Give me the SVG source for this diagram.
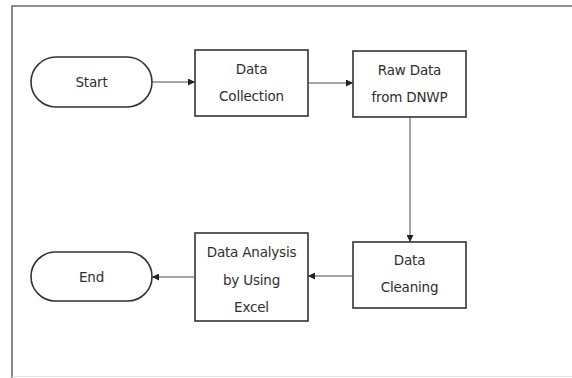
<svg xmlns="http://www.w3.org/2000/svg" width="572" height="378" viewBox="0 0 572 378">
  <style>
    .shape { fill: #ffffff; stroke: #333333; stroke-width: 1.6; }
    .label { font-family: "DejaVu Sans", "Liberation Sans", sans-serif; font-size: 13.5px; letter-spacing: -0.2px; fill: #2e2e2e; text-anchor: middle; dominant-baseline: central; }
    .link { fill: none; stroke: #4a4a4a; stroke-width: 1; marker-end: url(#arrow); }
    .frame { fill: none; stroke: #6a6a6a; stroke-width: 1.6; }
  </style>
  <defs>
    <marker id="arrow" viewBox="0 0 10 10" refX="10" refY="5" markerWidth="7" markerHeight="7" markerUnits="userSpaceOnUse" orient="auto">
      <path d="M0,0 L10,5 L0,10 z" fill="#222222"/>
    </marker>
  </defs>

  <rect x="0" y="0" width="572" height="378" fill="#ffffff"/>
  <!-- page frame -->
  <path class="frame" d="M12,378 L12,6 L572,6"/>
  <line x1="12" y1="376.5" x2="572" y2="376.5" stroke="#e4e4e4" stroke-width="1"/>

  <g id="start">
    <rect class="shape" x="31" y="57" width="121" height="50" rx="25" ry="25"/>
    <text class="label" x="91.5" y="82">Start</text>
  </g>
  <g id="data-collection">
    <rect class="shape" x="195" y="50" width="113" height="66"/>
    <text class="label" x="251.5" y="69">Data</text>
    <text class="label" x="251.5" y="96">Collection</text>
  </g>
  <g id="raw-data">
    <rect class="shape" x="353" y="51" width="113" height="66"/>
    <text class="label" x="409.5" y="70">Raw Data</text>
    <text class="label" x="409.5" y="97">from DNWP</text>
  </g>
  <g id="data-cleaning">
    <rect class="shape" x="353" y="242" width="113" height="66"/>
    <text class="label" x="409.5" y="260">Data</text>
    <text class="label" x="409.5" y="287">Cleaning</text>
  </g>
  <g id="data-analysis">
    <rect class="shape" x="195" y="233" width="113" height="88"/>
    <text class="label" x="251.5" y="252">Data Analysis</text>
    <text class="label" x="251.5" y="280">by Using</text>
    <text class="label" x="251.5" y="307">Excel</text>
  </g>
  <g id="end">
    <rect class="shape" x="31" y="252" width="121" height="49" rx="24.5" ry="24.5"/>
    <text class="label" x="91.5" y="277">End</text>
  </g>

  <g id="connectors">
    <line class="link" x1="152" y1="82" x2="195" y2="82"/>
    <line class="link" x1="308" y1="83" x2="353" y2="83"/>
    <line class="link" x1="410" y1="117" x2="410" y2="242"/>
    <line class="link" x1="353" y1="276" x2="308" y2="276"/>
    <line class="link" x1="195" y1="277" x2="152" y2="277"/>
  </g>
</svg>
